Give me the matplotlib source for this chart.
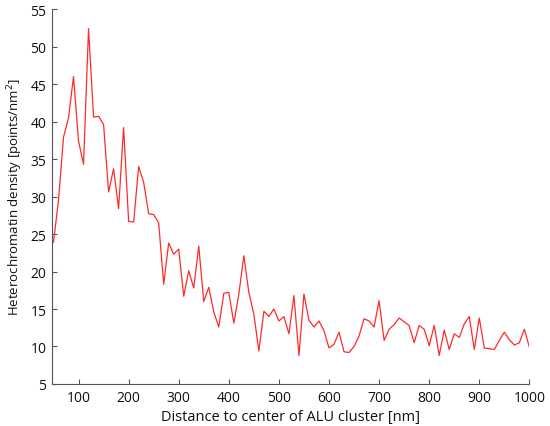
import matplotlib
matplotlib.use("Agg")
import matplotlib.pyplot as plt
import numpy as np

distance_nm = list(range(50, 1001, 10))
density = [
    23.9, 29.5, 37.9, 40.5, 46.0, 37.4, 34.3, 52.4, 40.6, 40.7,
    39.6, 30.6, 33.7, 28.4, 39.2, 26.7, 26.6, 34.0, 31.9, 27.7,
    27.6, 26.5, 18.3, 23.8, 22.3, 23.0, 16.7, 20.1, 17.8, 23.4,
    16.0, 17.9, 14.6, 12.6, 17.1, 17.2, 13.1, 17.0, 22.1, 17.2,
    14.3, 9.4, 14.7, 14.0, 15.0, 13.4, 14.0, 11.7, 16.8, 8.8,
    17.0, 13.5, 12.6, 13.4, 12.1, 9.8, 10.3, 11.9, 9.3, 9.2,
    10.0, 11.4, 13.7, 13.4, 12.6, 16.1, 10.8, 12.3, 12.9, 13.8,
    13.3, 12.8, 10.5, 12.8, 12.3, 10.1, 12.8, 8.8, 12.2, 9.6,
    11.7, 11.2, 13.0, 14.0, 9.6, 13.8, 9.8, 9.7, 9.6, 10.8,
    11.9, 10.9, 10.2, 10.5, 12.3, 9.9,
]
x_ticks = [100, 200, 300, 400, 500, 600, 700, 800, 900, 1000]
y_ticks = [5, 10, 15, 20, 25, 30, 35, 40, 45, 50, 55]

plt.rcParams['font.family'] = ['Open Sans', 'DejaVu Sans']

fig = plt.figure(figsize=(5.5, 4.27), dpi=100)
ax = fig.add_axes([0.0945, 0.0984, 0.868, 0.878])
ax.plot(distance_nm, density, color='#ff2a2a', lw=0.9)

ax.set_xlim(47, 1000)
ax.set_ylim(5, 55)
ax.set_xticks(x_ticks)
ax.set_yticks(y_ticks)
for s in ['top', 'right']:
    ax.spines[s].set_visible(False)
for s in ['left', 'bottom']:
    ax.spines[s].set_color('#555555')
    ax.spines[s].set_linewidth(0.8)
ax.tick_params(direction='in', length=3.5, width=0.8, color='#555555',
               labelsize=10, labelcolor='#111111', pad=4)
ax.set_xlabel('Distance to center of ALU cluster [nm]', fontsize=10.5, labelpad=3, color='#111111')
ax.set_ylabel('Heterochromatin density [points/nm$^2$]', fontsize=9.5, labelpad=4, color='#111111')

fig.savefig('out.png', dpi=100)
